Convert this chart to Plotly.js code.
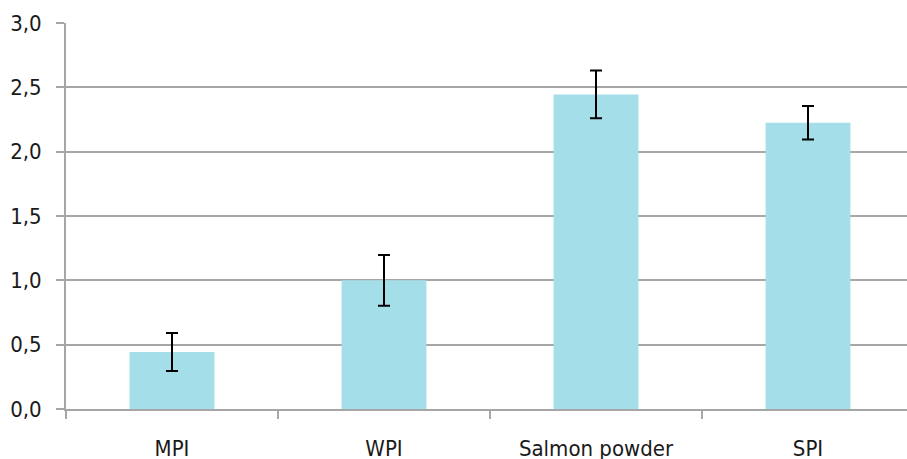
<!DOCTYPE html>
<html>
<head>
<meta charset="utf-8">
<script src="https://cdn.plot.ly/plotly-3.0.1.min.js"></script>
<style>html,body{margin:0;padding:0;background:#fff;overflow:hidden}#chart{width:907px;height:459px}</style>
</head>
<body>
<div id="chart"></div>
<script>
const categories = ["MPI", "WPI", "Salmon powder", "SPI"];
const values = [0.443, 1.0, 2.445, 2.225];
const errors = [0.147, 0.197, 0.185, 0.13];
const yTicks = [0, 0.5, 1.0, 1.5, 2.0, 2.5, 3.0];

const FONT = "'DejaVu Sans Condensed', sans-serif";

Plotly.newPlot('chart', [{
  type: 'bar',
  x: categories,
  y: values,
  width: 0.4,
  marker: {color: '#a4dfe9'},
  error_y: {type: 'data', array: errors, visible: true, color: '#000000', thickness: 2, width: 6},
  hoverinfo: 'none'
}], {
  width: 907, height: 459,
  margin: {l: 66, r: 0, t: 23, b: 50, pad: 0},
  separators: ',.',
  paper_bgcolor: '#ffffff', plot_bgcolor: '#ffffff',
  showlegend: false,
  font: {family: FONT, size: 22, color: '#1a1a1a'},
  xaxis: {
    type: 'category',
    range: [-0.5, 3.467],
    tickson: 'boundaries',
    ticks: 'outside', ticklen: 8, tickcolor: '#a6a6a6', tickwidth: 2,
    showline: true, linecolor: '#a6a6a6', linewidth: 2,
    showgrid: false, zeroline: false,
    ticklabelstandoff: 19,
    fixedrange: true
  },
  yaxis: {
    range: [0, 3.0],
    tickvals: yTicks,
    tickformat: '.1f',
    ticks: 'outside', ticklen: 8, tickcolor: '#a6a6a6', tickwidth: 2,
    showline: true, linecolor: '#a6a6a6', linewidth: 2,
    showgrid: true, gridcolor: '#a6a6a6', gridwidth: 2,
    zeroline: false,
    ticklabelstandoff: 10,
    fixedrange: true
  }
}, {displayModeBar: false, staticPlot: true});
</script>
</body>
</html>
